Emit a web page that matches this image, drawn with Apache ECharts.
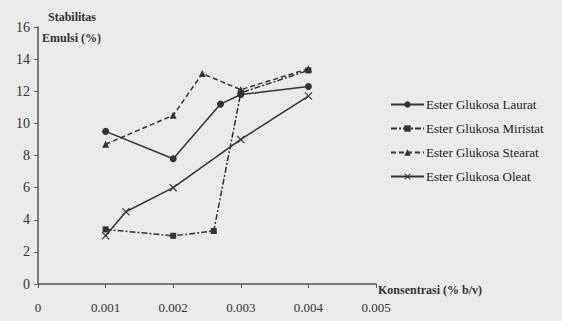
<!DOCTYPE html>
<html>
<head>
<meta charset="utf-8">
<style>
  html, body { margin: 0; padding: 0; background: #eaeaea; }
  #chart { width: 562px; height: 321px; }
</style>
<script src="https://cdn.jsdelivr.net/npm/echarts@6/dist/echarts.min.js"></script>
</head>
<body>
<div id="chart"></div>
<script>
var seriesNames = ['Ester Glukosa Laurat', 'Ester Glukosa Miristat', 'Ester Glukosa Stearat', 'Ester Glukosa Oleat'];

// [konsentrasi (% b/v), stabilitas emulsi (%)]
var laurat = [[0.001, 9.5], [0.002, 7.8], [0.0027, 11.2], [0.003, 11.8], [0.004, 12.3]];
var miristat = [[0.001, 3.4], [0.002, 3.0], [0.0026, 3.3], [0.003, 11.9], [0.004, 13.3]];
var stearat = [[0.001, 8.7], [0.002, 10.5], [0.00243, 13.1], [0.003, 12.1], [0.004, 13.4]];
var oleat = [[0.001, 3.0], [0.0013, 4.5], [0.002, 6.0], [0.003, 9.0], [0.004, 11.7]];

var ink = '#333333';
var font = 'Liberation Serif';
var crossIcon = 'path://M0,1L1,0L5,4L9,0L10,1L6,5L10,9L9,10L5,6L1,10L0,9L4,5Z';

function lineSeries(name, data, symbol, size, dash) {
  return {
    name: name,
    type: 'line',
    data: data,
    symbol: symbol,
    symbolSize: size,
    showAllSymbol: true,
    itemStyle: { color: ink },
    lineStyle: { color: ink, width: 1.5, type: dash }
  };
}

var chart = echarts.init(document.getElementById('chart'), null, { renderer: 'svg' });
chart.setOption({
  backgroundColor: '#eaeaea',
  animation: false,
  grid: { left: 38, right: 186, top: 27, bottom: 37 },
  legend: {
    orient: 'vertical',
    left: 385,
    top: 93,
    itemWidth: 33,
    itemHeight: 8,
    itemGap: 11,
    textStyle: { color: '#222', fontFamily: font, fontSize: 13, padding: [0, 0, 0, -3] },
    data: seriesNames
  },
  xAxis: {
    type: 'value',
    min: 0,
    max: 0.005,
    interval: 0.001,
    splitLine: { show: false },
    axisLine: { lineStyle: { color: '#555', width: 1.5 } },
    axisTick: { show: true, length: 4, lineStyle: { color: '#555' } },
    axisLabel: {
      color: '#333', fontFamily: font, fontSize: 13, margin: 17,
      formatter: function (v) { return v === 0 ? '0' : v.toFixed(3); }
    }
  },
  yAxis: {
    type: 'value',
    min: 0,
    max: 16,
    interval: 2,
    splitLine: { show: false },
    axisLine: { show: true, lineStyle: { color: '#555', width: 1.5 } },
    axisTick: { show: true, length: 4, lineStyle: { color: '#555' } },
    axisLabel: { color: '#333', fontFamily: font, fontSize: 14, margin: 8 }
  },
  graphic: [
    { type: 'text', left: 48, top: 11, style: { text: 'Stabilitas', fill: '#333', font: 'bold 12px "Liberation Serif"' } },
    { type: 'text', left: 42, top: 32, style: { text: 'Emulsi (%)', fill: '#333', font: 'bold 12px "Liberation Serif"' } },
    { type: 'text', left: 378, top: 284, style: { text: 'Konsentrasi (% b/v)', fill: '#333', font: 'bold 12px "Liberation Serif"' } }
  ],
  series: [
    lineSeries(seriesNames[0], laurat, 'circle', 7, 'solid'),
    lineSeries(seriesNames[1], miristat, 'rect', 6, [6, 2, 2, 2]),
    lineSeries(seriesNames[2], stearat, 'triangle', 7, [5, 3]),
    lineSeries(seriesNames[3], oleat, crossIcon, 8, 'solid')
  ]
});
</script>
</body>
</html>
